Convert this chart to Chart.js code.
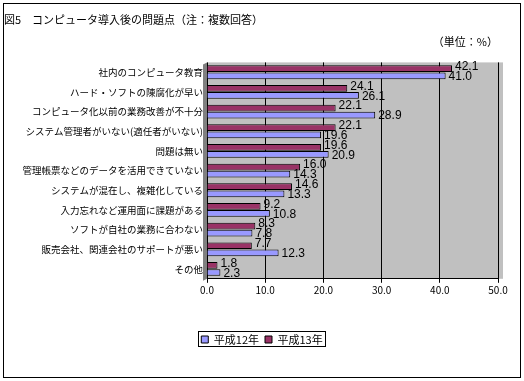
<!DOCTYPE html>
<html><head><meta charset="utf-8">
<script src="https://cdn.jsdelivr.net/npm/chart.js@4/dist/chart.umd.min.js"></script>
<style>html,body{margin:0;padding:0;background:#fff;}#wrap{width:524px;height:381px;}</style>
</head><body><div id="wrap"><canvas id="c" width="524" height="381"></canvas></div>
<script>
const categories = [
  "社内のコンピュータ教育",
  "ハード・ソフトの陳腐化が早い",
  "コンピュータ化以前の業務改善が不十分",
  "システム管理者がいない(適任者がいない)",
  "問題は無い",
  "管理帳票などのデータを活用できていない",
  "システムが混在し、複雑化している",
  "入力忘れなど運用面に課題がある",
  "ソフトが自社の業務に合わない",
  "販売会社、関連会社のサポートが悪い",
  "その他"
];
const h13 = [42.1, 24.1, 22.1, 22.1, 19.6, 16.0, 14.6, 9.2, 8.3, 7.7, 1.8];
const h12 = [41.0, 26.1, 28.9, 19.6, 20.9, 14.3, 13.3, 10.8, 7.8, 12.3, 2.3];
const seriesNames = ["平成13年", "平成12年"];
const xTicks = [0, 10, 20, 30, 40, 50];

const JP = '"Noto Sans CJK JP", "DejaVu Sans", sans-serif';

const decor = {
  id: 'decor',
  afterLayout(chart) {
    const lg = chart.legend;
    if (lg) { lg.left += 11; lg.right += 11; }
  },
  beforeDraw(chart) {
    const {ctx, chartArea: a} = chart;
    ctx.save();
    ctx.fillStyle = '#fff';
    ctx.fillRect(0, 0, chart.width, chart.height);
    ctx.fillStyle = '#C0C0C0';
    ctx.fillRect(a.left, a.top, a.right - a.left + 5, a.bottom - a.top);
    ctx.fillStyle = '#808080';
    ctx.beginPath();
    ctx.moveTo(a.left - 4, a.top + 2);
    ctx.lineTo(a.left, a.top);
    ctx.lineTo(a.left, a.bottom);
    ctx.lineTo(a.left - 4, a.bottom + 2);
    ctx.closePath();
    ctx.fill();
    ctx.restore();
  },
  afterDraw(chart) {
    const {ctx} = chart;
    ctx.save();
    ctx.strokeStyle = '#000';
    ctx.lineWidth = 1;
    ctx.strokeRect(3.5, 3.5, chart.width - 7, chart.height - 7);
    const lg = chart.legend;
    if (lg && lg.legendHitBoxes && lg.legendHitBoxes.length) {
      const hb = lg.legendHitBoxes;
      const l = Math.min(...hb.map(b => b.left)) - 3;
      const r = Math.max(...hb.map(b => b.left + b.width)) + 3;
      const t = Math.min(...hb.map(b => b.top));
      const bt = Math.max(...hb.map(b => b.top + b.height));
      const cy = (t + bt) / 2;
      ctx.strokeRect(Math.round(l) + 0.5, Math.round(cy - 8) + 0.5, Math.round(r - l), 15);
    }
    ctx.fillStyle = '#000';
    ctx.font = '12px "Liberation Sans", sans-serif';
    ctx.textAlign = 'left';
    ctx.textBaseline = 'middle';
    chart.data.datasets.forEach((ds, i) => {
      const meta = chart.getDatasetMeta(i);
      meta.data.forEach((bar, j) => {
        ctx.fillText(ds.data[j].toFixed(1), bar.x + 3, bar.y + (i === 0 ? -2 : 1));
      });
    });
    ctx.restore();
  }
};

new Chart(document.getElementById('c'), {
  type: 'bar',
  data: {
    labels: categories,
    datasets: [
      { label: seriesNames[0], data: h13, backgroundColor: '#993366', borderColor: '#000', borderWidth: 1 },
      { label: seriesNames[1], data: h12, backgroundColor: '#9999FF', borderColor: '#000', borderWidth: 1 }
    ]
  },
  options: {
    indexAxis: 'y',
    responsive: false,
    animation: false,
    devicePixelRatio: 1,
    categoryPercentage: 0.72,
    barPercentage: 0.95,
    layout: { padding: { left: 4, right: 26, top: 0, bottom: 26 } },
    scales: {
      x: {
        min: 0, max: 50,
        afterBuildTicks(s) { s.ticks = xTicks.map(v => ({value: v})); },
        ticks: { color: '#000', font: { family: JP, size: 10 }, callback: v => Number(v).toFixed(1), padding: 1, maxRotation: 0 },
        grid: { color: '#000', drawTicks: true, tickLength: 4 },
        border: { color: '#000' }
      },
      y: {
        afterFit(s) { s.width = 203; },
        ticks: { color: '#000', font: { family: JP, size: 9.5 }, padding: 4, autoSkip: false },
        grid: { display: false, drawTicks: false },
        border: { display: false }
      }
    },
    plugins: {
      title: { display: true, text: '図5　コンピュータ導入後の問題点（注：複数回答）', align: 'start', color: '#000', font: { family: JP, size: 11, weight: 'normal' }, padding: { top: 13, bottom: 2 } },
      subtitle: { display: true, text: '（単位：%）', align: 'end', color: '#000', font: { family: JP, size: 11 }, padding: { top: 7, bottom: 14 } },
      legend: {
        position: 'bottom', reverse: true,
        title: { display: true, text: ' ', font: { size: 11 }, padding: { top: 12, bottom: 6 } },
        labels: { color: '#000', font: { family: JP, size: 11 }, boxWidth: 7, boxHeight: 7, padding: 6, useBorderRadius: false }
      },
      tooltip: { enabled: false }
    }
  },
  plugins: [decor]
});
</script>
</body></html>
